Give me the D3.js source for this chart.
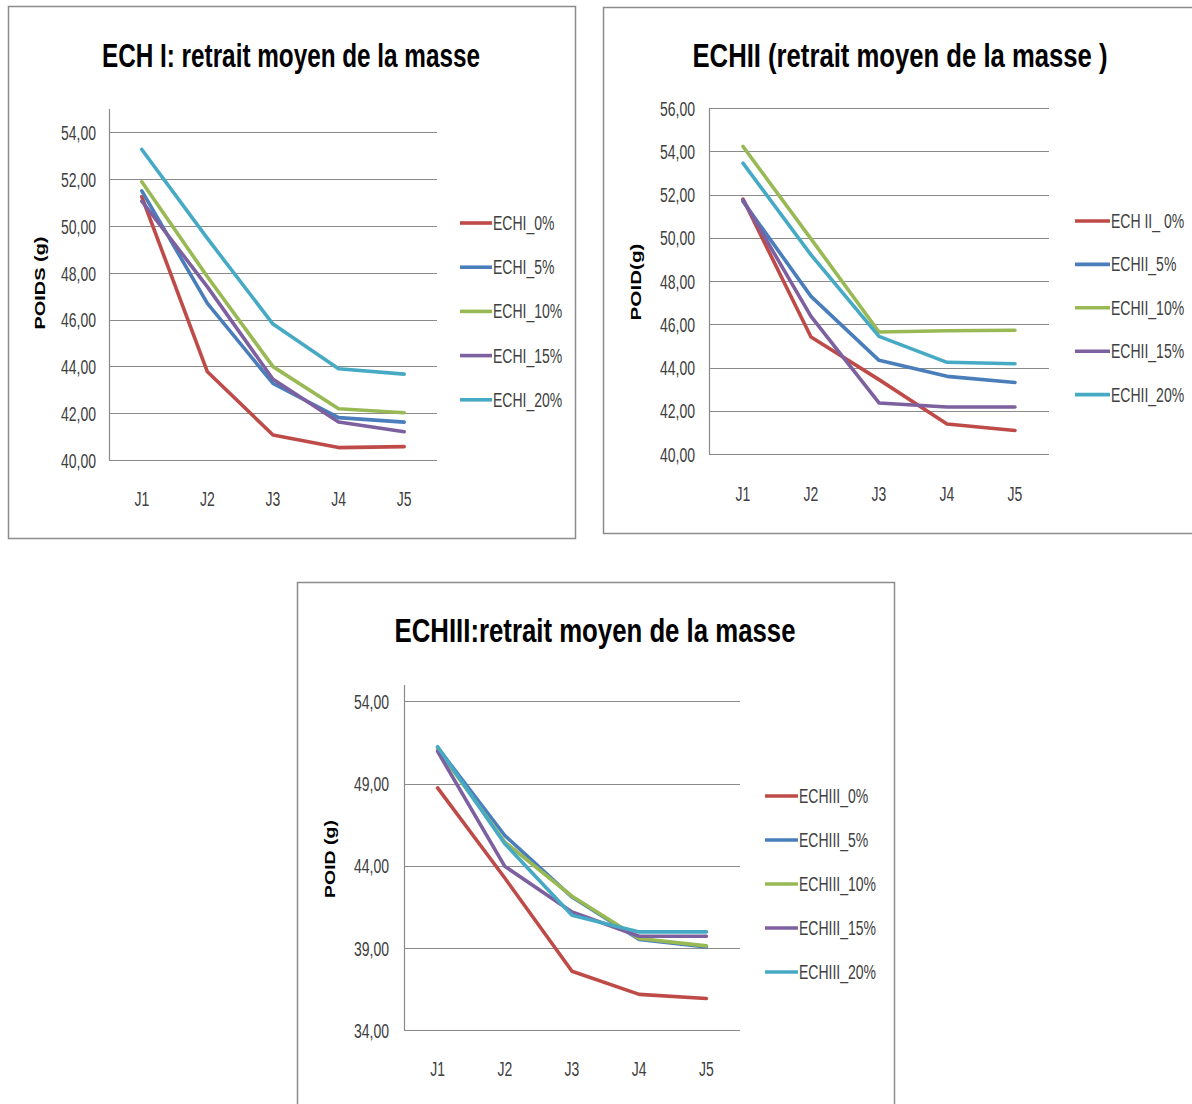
<!DOCTYPE html>
<html><head><meta charset="utf-8">
<script src="https://cdn.jsdelivr.net/npm/d3@7"></script>
<style>
body{margin:0;background:#fff;}
svg{display:block;}
</style></head>
<body><svg id="c" width="1192" height="1104"></svg>
<script>
// ---------- DATA ----------
const categories = ["J1","J2","J3","J4","J5"];
const seriesColors = ["#BE4B48","#4A7EBB","#98B954","#7D60A0","#46AAC5"];

const titles = ["ECH I: retrait moyen de la masse","ECHII (retrait moyen de la masse )","ECHIII:retrait moyen de la masse"];
const yTitles = ["POIDS (g)","POID(g)","POID (g)"];

const names1 = ["ECHI_0%","ECHI_5%","ECHI_10%","ECHI_15%","ECHI_20%"];
const names2 = ["ECH II_ 0%","ECHII_5%","ECHII_10%","ECHII_15%","ECHII_20%"];
const names3 = ["ECHIII_0%","ECHIII_5%","ECHIII_10%","ECHIII_15%","ECHIII_20%"];

const values1 = [
  [51.25,43.77,41.07,40.53,40.57],
  [51.50,46.69,43.27,41.81,41.62],
  [51.89,47.83,43.99,42.19,42.02],
  [51.06,47.40,43.45,41.62,41.21],
  [53.27,49.47,45.81,43.90,43.67]
];
const values2 = [
  [51.79,45.41,43.44,41.39,41.09],
  [51.68,47.29,44.33,43.59,43.31],
  [54.22,49.95,45.64,45.70,45.72],
  [51.75,46.36,42.36,42.17,42.17],
  [53.45,49.21,45.44,44.24,44.17]
];
const values3 = [
  [48.74,43.25,37.58,36.17,35.92],
  [51.20,45.84,42.09,39.51,39.06],
  [51.10,45.44,42.14,39.57,39.12],
  [50.96,43.96,41.18,39.71,39.71],
  [51.24,45.34,40.98,39.97,39.97]
];

const yDomain1 = [40,55], yTicks1 = [40,42,44,46,48,50,52,54];
const yDomain2 = [40,56], yTicks2 = [40,42,44,46,48,50,52,54,56];
const yDomain3 = [34,55], yTicks3 = [34,39,44,49,54];

// ---------- LAYOUT ----------
const charts = [
  {title:titles[0], yTitle:yTitles[0], names:names1, values:values1, dom:yDomain1, ticks:yTicks1,
   box:[8,6,575,538], plot:[109,437,109,460], titleX:291, titleY:67, titleLen:378,
   yTitleX:45, yTitleY:283, yTitleLen:93, tickX:96, xLabY:507,
   legX:460, legY:223, legStep:44.2, legLine:32},
  {title:titles[1], yTitle:yTitles[1], names:names2, values:values2, dom:yDomain2, ticks:yTicks2,
   box:[603,7,1195,533], plot:[709,1049,108,454], titleX:900, titleY:67, titleLen:415,
   yTitleX:641, yTitleY:282, yTitleLen:77, tickX:695, xLabY:502,
   legX:1075, legY:221, legStep:43.4, legLine:35},
  {title:titles[2], yTitle:yTitles[2], names:names3, values:values3, dom:yDomain3, ticks:yTicks3,
   box:[297,582,894,1110], plot:[404,740,685,1030], titleX:595, titleY:642, titleLen:401,
   yTitleX:335, yTitleY:859, yTitleLen:78, tickX:389, xLabY:1077,
   legX:765, legY:796, legStep:44, legLine:33}
];

const FONT = '"Liberation Sans",Arial,sans-serif';
const svg = d3.select("#c");
const fmt = d => d.toFixed(2).replace(".", ",");

// horizontally condense a text to mimic a narrow typeface
function condense(sel, f){
  sel.each(function(){
    const w = this.getComputedTextLength();
    d3.select(this).attr("textLength", w*f).attr("lengthAdjust","spacingAndGlyphs");
  });
}

charts.forEach(c => {
  const g = svg.append("g");
  const [bx0,by0,bx1,by1] = c.box;
  g.append("rect").attr("x",bx0+0.5).attr("y",by0+0.5).attr("width",bx1-bx0).attr("height",by1-by0)
    .attr("fill","#fff").attr("stroke","#8c8c8c").attr("stroke-width",1.5);

  const [px0,px1,py0,py1] = c.plot;
  const x = d3.scaleBand().domain(categories).range([px0,px1]);
  const y = d3.scaleLinear().domain(c.dom).range([py1,py0]);

  // gridlines
  g.append("g").selectAll("line").data(c.ticks).join("line")
    .attr("x1",px0).attr("x2",px1).attr("y1",d=>Math.round(y(d))+0.5).attr("y2",d=>Math.round(y(d))+0.5)
    .attr("stroke","#8a8a8a").attr("stroke-width",1.2);
  // y axis line
  g.append("line").attr("x1",px0+0.5).attr("x2",px0+0.5).attr("y1",py0).attr("y2",py1)
    .attr("stroke","#8a8a8a").attr("stroke-width",1.2);

  // y tick labels
  const yAxis = d3.axisLeft(y).tickValues(c.ticks).tickFormat(fmt).tickSize(0).tickPadding(0);
  const ya = g.append("g").attr("transform",`translate(${c.tickX},0)`).call(yAxis);
  ya.select(".domain").remove();
  ya.selectAll("text").attr("font-size",20).attr("fill","#404040")
    .attr("font-family",null).style("font-family",FONT).attr("dy","0.36em");
  condense(ya.selectAll("text"), 0.7);

  // x labels
  const xAxis = d3.axisBottom(x).tickSize(0).tickPadding(0);
  const xa = g.append("g").attr("transform",`translate(0,${c.xLabY-15})`).call(xAxis);
  xa.select(".domain").remove();
  xa.selectAll("text").attr("font-size",20).attr("fill","#404040")
    .attr("font-family",null).style("font-family",FONT);
  condense(xa.selectAll("text"), 0.7);

  // lines
  const line = d3.line().x((d,i)=>x(categories[i])+x.bandwidth()/2).y(d=>y(d));
  g.append("g").selectAll("path").data(c.values).join("path")
    .attr("d",line).attr("fill","none").attr("stroke",(d,i)=>seriesColors[i])
    .attr("stroke-width",3.6).attr("stroke-linejoin","round").attr("stroke-linecap","round");

  // title
  g.append("text").attr("x",c.titleX).attr("y",c.titleY).attr("text-anchor","middle")
    .style("font-family",FONT)
    .attr("font-weight","bold").attr("font-size",34).attr("fill","#000")
    .attr("textLength",c.titleLen).attr("lengthAdjust","spacingAndGlyphs").text(c.title);

  // y title
  g.append("text").attr("transform",`translate(${c.yTitleX},${c.yTitleY}) rotate(-90)`)
    .attr("text-anchor","middle").style("font-family",FONT)
    .attr("font-weight","bold").attr("font-size",15).attr("fill","#000")
    .attr("textLength",c.yTitleLen).attr("lengthAdjust","spacingAndGlyphs").text(c.yTitle);

  // legend
  const lg = g.append("g");
  c.names.forEach((n,i) => {
    const yy = c.legY + i*c.legStep;
    lg.append("line").attr("x1",c.legX).attr("x2",c.legX+c.legLine).attr("y1",yy).attr("y2",yy)
      .attr("stroke",seriesColors[i]).attr("stroke-width",3.6);
    lg.append("text").attr("x",c.legX+c.legLine+1).attr("y",yy+7)
      .style("font-family",FONT)
      .attr("font-size",20).attr("fill","#404040").text(n);
  });
  condense(lg.selectAll("text"), 0.7);
});
</script></body></html>
